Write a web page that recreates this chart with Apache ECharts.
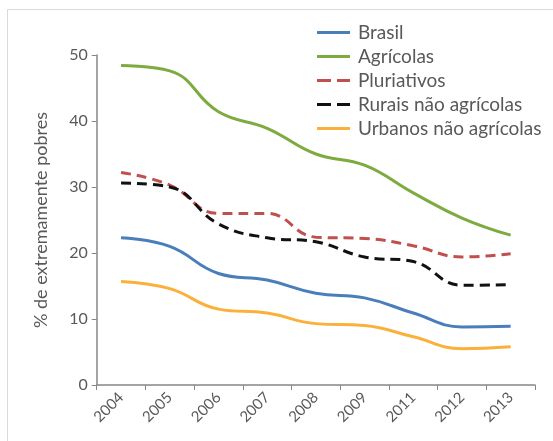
<!DOCTYPE html>
<html><head><meta charset="utf-8">
<script src="https://cdn.jsdelivr.net/npm/echarts@6/dist/echarts.min.js"></script>
<style>html,body{margin:0;padding:0;background:#fff}#c{width:553px;height:441px}</style>
</head><body><div id="c"></div>
<script>
const categories = ['2004','2005','2006','2007','2008','2009','2011','2012','2013'];
const brasil = [22.3, 21.0, 16.9, 15.9, 13.9, 13.2, 10.9, 8.8, 8.9];
const agricolas = [48.4, 47.6, 41.4, 38.9, 35.0, 33.3, 29.1, 25.3, 22.7];
const pluriativos = [32.2, 30.3, 26.0, 26.0, 22.4, 22.2, 21.1, 19.4, 19.9];
const rurais = [30.6, 30.0, 24.4, 22.3, 21.7, 19.4, 18.7, 15.1, 15.2];
const urbanos = [15.7, 14.6, 11.5, 10.9, 9.3, 9.0, 7.3, 5.5, 5.8];
const yTicks = [0, 10, 20, 30, 40, 50];
const seriesNames = ['Brasil','Agrícolas','Pluriativos','Rurais não agrícolas','Urbanos não agrícolas'];
const dashedSeries = ['Pluriativos','Rurais não agrícolas'];

const chart = echarts.init(document.getElementById('c'), null, {renderer:'canvas'});
const font = 'Lato, "Open Sans", sans-serif';
const solidIcon = 'path://M0,0h33v3h-33z';
const dashIcon = 'path://M0,0h14v3h-14z M20,0h13v3h-13z';
function mk(name, data, color, dashed){
  return {name, type:'line', data, smooth:0.45, symbol:'none',
    lineStyle:{color, width:3, type: dashed ? [10,6] : 'solid'},
    itemStyle:{color}};
}
chart.setOption({
  animation:false,
  graphic:[{type:'rect', shape:{x:7.5,y:9.5,width:600,height:500}, style:{fill:'none', stroke:'#d9d9d9', lineWidth:1}, z:-1}],
  legend:{orient:'vertical', left:312, top:18, itemWidth:33, itemHeight:3, itemGap:5,
    textStyle:{color:'#595959', fontSize:19, lineHeight:18, fontFamily:font, padding:[0,0,0,3]},
    data:seriesNames.map(n=>({name:n, icon: dashedSeries.includes(n) ? dashIcon : solidIcon}))},
  grid:{left:96.7, right:18, top:55, bottom:56},
  xAxis:{type:'category', data:categories, boundaryGap:true,
    axisLine:{lineStyle:{color:'#868686', width:1.5}},
    axisTick:{show:true, length:5, lineStyle:{color:'#868686'}},
    axisLabel:{rotate:45, color:'#595959', fontSize:15, fontFamily:font, margin:10}},
  yAxis:{type:'value', min:0, max:50, interval:10,
    name:'% de extremamente pobres', nameLocation:'middle', nameGap:47,
    nameTextStyle:{color:'#595959', fontSize:18, fontFamily:font},
    splitLine:{show:false},
    axisLine:{show:true, lineStyle:{color:'#868686', width:1.5}},
    axisTick:{show:true, length:5, lineStyle:{color:'#868686'}},
    axisLabel:{color:'#595959', fontSize:16, fontFamily:font, margin:9,
      formatter:v=>yTicks.includes(v)?String(v):''}},
  series:[
    mk(seriesNames[0], brasil, '#4a7ebb', false),
    mk(seriesNames[1], agricolas, '#7eab3f', false),
    mk(seriesNames[2], pluriativos, '#c0504d', true),
    mk(seriesNames[3], rurais, '#111111', true),
    mk(seriesNames[4], urbanos, '#fbb03b', false)
  ]
});
</script></body></html>
